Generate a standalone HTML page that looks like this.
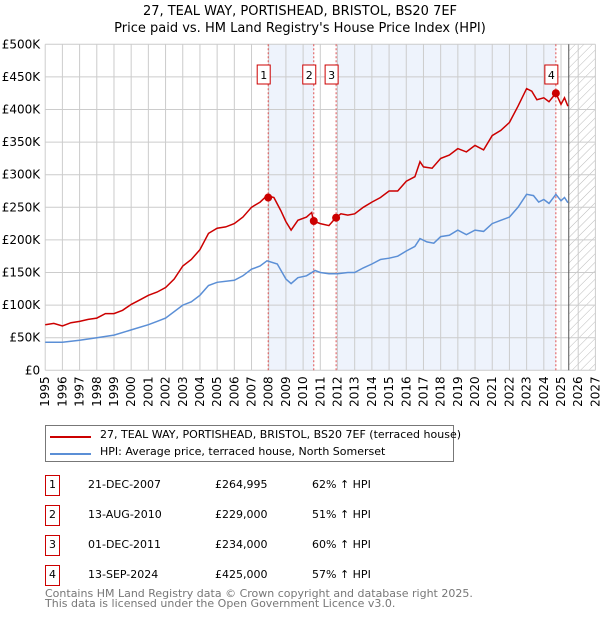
<!DOCTYPE html>
<html><head><meta charset="utf-8"><style>
body{margin:0;background:#fff;font-family:"DejaVu Sans","Liberation Sans",sans-serif;}
.t{position:absolute;font-size:11px;color:#000;white-space:nowrap}
</style></head><body>
<div style="position:relative;width:600px;height:620px;overflow:hidden">
<svg id="chart" width="600" height="420" style="position:absolute;left:0;top:0">
<defs><pattern id="hatch" width="6" height="6" patternUnits="userSpaceOnUse" patternTransform="rotate(45)"><line x1="0" y1="0" x2="0" y2="6" stroke="#bbb" stroke-width="1"/></pattern></defs>
<text x="300" y="15" text-anchor="middle" font-size="13">27, TEAL WAY, PORTISHEAD, BRISTOL, BS20 7EF</text>
<text x="300" y="32" text-anchor="middle" font-size="13">Price paid vs. HM Land Registry's House Price Index (HPI)</text>
<g id="g"></g>
</svg>
<div style="position:absolute;left:45px;top:425px;width:407px;height:35px;border:1px solid #777">
<div style="position:absolute;left:4px;top:10px;width:41px;height:2px;background:#cc0000"></div>
<div class="t" style="left:54px;top:2px">27, TEAL WAY, PORTISHEAD, BRISTOL, BS20 7EF (terraced house)</div>
<div style="position:absolute;left:4px;top:27px;width:41px;height:2px;background:#5b8fd6"></div>
<div class="t" style="left:54px;top:19px">HPI: Average price, terraced house, North Somerset</div>
</div>
<div id="tbl"></div>
<div class="t" style="left:45px;top:589px;color:#777;font-size:11px;line-height:10px">Contains HM Land Registry data © Crown copyright and database right 2025.<br>This data is licensed under the Open Government Licence v3.0.</div>
</div>
<script>
const yearTicks=[1995,1996,1997,1998,1999,2000,2001,2002,2003,2004,2005,2006,2007,2008,2009,2010,2011,2012,2013,2014,2015,2016,2017,2018,2019,2020,2021,2022,2023,2024,2025,2026,2027];
const yTicks=[0,50,100,150,200,250,300,350,400,450,500];
const yLabels=["£0","£50K","£100K","£150K","£200K","£250K","£300K","£350K","£400K","£450K","£500K"];
const priceT=[1995,1995.5,1996,1996.5,1997,1997.5,1998,1998.5,1999,1999.5,2000,2000.5,2001,2001.5,2002,2002.5,2003,2003.5,2004,2004.5,2005,2005.5,2006,2006.5,2007,2007.5,2007.9,2008.3,2008.7,2009,2009.3,2009.7,2010.2,2010.5,2010.6,2011,2011.5,2011.9,2012.2,2012.6,2013,2013.5,2014,2014.5,2015,2015.5,2016,2016.5,2016.8,2017,2017.5,2018,2018.5,2019,2019.5,2020,2020.5,2021,2021.5,2022,2022.5,2023,2023.3,2023.6,2024,2024.3,2024.7,2025,2025.2,2025.4];
const priceV=[70,72,68,73,75,78,80,87,87,92,101,108,115,120,127,140,160,170,185,210,218,220,225,235,250,258,268,265,245,228,215,230,235,242,229,225,222,234,240,238,240,250,258,265,275,275,290,297,320,312,310,325,330,340,335,345,338,360,368,380,405,432,428,415,418,412,425,408,418,405];
const hpiT=[1995,1996,1997,1998,1999,2000,2001,2001.5,2002,2003,2003.5,2004,2004.5,2005,2006,2006.5,2007,2007.5,2007.9,2008.5,2009,2009.3,2009.7,2010.2,2010.7,2011,2011.5,2012,2012.6,2013,2013.5,2014,2014.5,2015,2015.5,2016,2016.5,2016.8,2017.2,2017.6,2018,2018.5,2019,2019.5,2020,2020.5,2021,2021.5,2022,2022.5,2023,2023.4,2023.7,2024,2024.3,2024.7,2025,2025.2,2025.4];
const hpiV=[43,43,46,50,54,62,70,75,80,100,105,115,130,135,138,145,155,160,168,163,140,133,142,145,153,150,148,148,150,150,157,163,170,172,175,183,190,202,197,195,205,207,215,208,215,213,225,230,235,250,270,268,258,262,256,270,260,265,257];
const saleT=[2007.97,2010.62,2011.92,2024.7];
const saleV=[264.995,229,234,425];
const saleLabels=["1","2","3","4"];
const saleDates=["21-DEC-2007","13-AUG-2010","01-DEC-2011","13-SEP-2024"];
const salePrices=["£264,995","£229,000","£234,000","£425,000"];
const saleHpi=["62% ↑ HPI","51% ↑ HPI","60% ↑ HPI","57% ↑ HPI"];
const X0=45.2,X1=595.4,Y0=370.3,Y1=44.3;
const xs=t=>X0+(t-1995)/32*(X1-X0);
const ys=v=>Y0-v/500*(Y0-Y1);
const g=document.getElementById('g');const NS="http://www.w3.org/2000/svg";
function mk(tag,attrs,name){const e=document.createElementNS(NS,tag);for(const k in attrs)e.setAttribute(k,attrs[k]);


g.appendChild(e);return e;}
mk('rect',{x:xs(saleT[0]),y:Y1,width:xs(saleT[1])-xs(saleT[0]),height:Y0-Y1,fill:'#eef3fc'},'sale-shade-1');
mk('rect',{x:xs(saleT[2]),y:Y1,width:xs(saleT[3])-xs(saleT[2]),height:Y0-Y1,fill:'#eef3fc'},'sale-shade-2');
const hs=2025.45;
mk('rect',{x:xs(hs),y:Y1,width:X1-xs(hs),height:Y0-Y1,fill:'url(#hatch)'},'forecast-hatch');
yearTicks.forEach(y=>{mk('line',{x1:xs(y),x2:xs(y),y1:Y1,y2:Y0,stroke:'#ccc','stroke-width':1},'grid-x-'+y);
const t=mk('text',{x:0,y:0,'font-size':12,'text-anchor':'end',transform:`translate(${xs(y)+4},${Y0+6}) rotate(-90)`},'x-tick-'+y);t.textContent=y;});
yTicks.forEach((v,i)=>{mk('line',{x1:X0,x2:X1,y1:ys(v),y2:ys(v),stroke:'#ccc','stroke-width':1},'grid-y-'+v);
const t=mk('text',{x:X0-5,y:ys(v)+4,'font-size':12,'text-anchor':'end'},'y-tick-'+v);t.textContent=yLabels[i];});
mk('line',{x1:xs(hs),x2:xs(hs),y1:Y1,y2:Y0,stroke:'#555','stroke-width':1},'forecast-line');
saleT.forEach((t,i)=>{mk('line',{x1:xs(t),x2:xs(t),y1:Y1,y2:Y0,stroke:'#e05050','stroke-width':1,'stroke-dasharray':'2,2'},'sale-marker-line-'+(i+1));
mk('rect',{x:xs(t)-11,y:65,width:13,height:19,fill:'#fff',stroke:'#cc0000','stroke-width':1},'sale-label-box-'+(i+1));
const tx=mk('text',{x:xs(t)-4.5,y:79,'font-size':11,'text-anchor':'middle'},'sale-label-'+(i+1));tx.textContent=saleLabels[i];});
const pl=(T,V)=>T.map((t,i)=>xs(t).toFixed(1)+','+ys(V[i]).toFixed(1)).join(' ');
mk('polyline',{points:pl(hpiT,hpiV),fill:'none',stroke:'#5b8fd6','stroke-width':1.5},'hpi-line');
mk('polyline',{points:pl(priceT,priceV),fill:'none',stroke:'#cc0000','stroke-width':1.5},'price-line');
saleT.forEach((t,i)=>mk('circle',{cx:xs(t),cy:ys(saleV[i]),r:4,fill:'#cc0000'},'sale-point-'+(i+1)));
const tb=document.getElementById('tbl');
saleT.forEach((t,i)=>{const top=475+i*30;
const r=document.createElement('div');r.style.cssText=`position:absolute;left:0;top:${top}px;width:600px;height:21px`;


r.innerHTML=`<div style="position:absolute;left:45px;top:0;width:13px;height:19px;border:1px solid #cc0000;font-size:11px;line-height:17px;text-align:center">${saleLabels[i]}</div>
<div class="t" style="left:88px;top:3px;width:70px;text-align:right">${saleDates[i]}</div>
<div class="t" style="left:215px;top:3px">${salePrices[i]}</div>
<div class="t" style="left:312px;top:3px">${saleHpi[i]}</div>`;
tb.appendChild(r);});
</script>
</body></html>
